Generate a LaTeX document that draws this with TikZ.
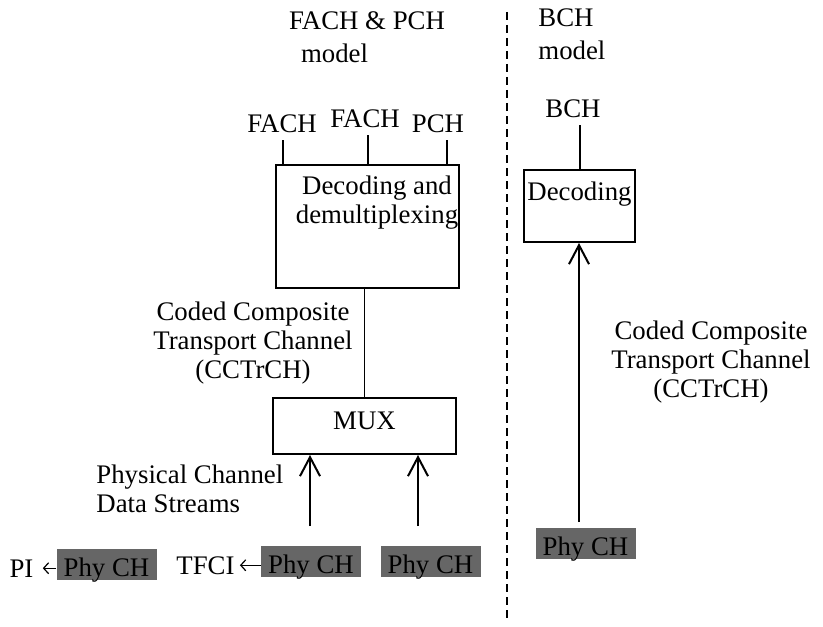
\documentclass[tikz,border=0pt]{standalone}
\usepackage{fontspec}
\setmainfont{Liberation Serif}
\usetikzlibrary{arrows.meta}

\begin{document}
\begin{tikzpicture}[x=0.5pt,y=-0.5pt,
  every node/.style={font=\fontsize{13.4}{14.5}\selectfont,inner sep=0pt},
  txt/.style={anchor=base},
  blockbox/.style={draw,line width=1pt,anchor=base},
  phybox/.style={fill=black!60,minimum width=50pt,text height=13.5pt,text depth=2pt,anchor=base},
  chlabel/.style={anchor=south,inner ysep=3.5pt},
  tick/.style={line width=0.8pt},
  uparrow/.style={line width=1pt,-{Straight Barb[length=9.5pt,width=10pt,line width=1pt]}},
  sidearrow/.style={line width=0.6pt,-{Straight Barb[length=2.5pt,width=5.5pt]}}]

\useasboundingbox (0,0) rectangle (823,626);

\node[txt] (fpmodel) at (367,30) {FACH \& PCH};
\node[txt] (fpmodelb) at (334.5,62) {model};
\node[txt,anchor=base west] (bmodel) at (538,27) {BCH};
\node[txt,anchor=base west] (bmodelb) at (538,60) {model};

\node[chlabel] (fach1) at (282,140) {FACH};
\node[chlabel] (fach2) at (365,135) {FACH};
\node[chlabel] (pch) at (438,140) {PCH};
\node[chlabel] (bch) at (573,125) {BCH};

\node[draw,line width=1pt,minimum width=91.5pt,minimum height=61.5pt] (demux) at (367.5,226.5) {};
\node[txt,align=center] (demuxtext) at (377,223) {Decoding and\\demultiplexing};
\node[blockbox,minimum width=91.5pt,text height=15.5pt,text depth=12.5pt] (mux) at (364.5,429) {MUX};
\node[blockbox,minimum width=55.5pt,text height=15pt,text depth=21pt] (bdec) at (579.5,200) {Decoding};

\node[txt,align=center] (cctrch) at (253,378) {Coded Composite\\Transport Channel\\(CCTrCH)};
\node[txt,align=center] (bcctrch) at (711,397) {Coded Composite\\Transport Channel\\(CCTrCH)};
\node[txt,anchor=base west,align=left] (pcds) at (96,512) {Physical Channel\\Data Streams};

\node[phybox] (phy1) at (106.5,576) {Phy CH};
\node[phybox] (phy2) at (311,573) {Phy CH};
\node[phybox] (phy3) at (430.5,573) {Phy CH};
\node[phybox] (phy4) at (585.5,555) {Phy CH};
\node[txt,inner xsep=4.5pt] (pi) at (21.5,577) {PI};
\node[txt,inner xsep=2.5pt] (tfci) at (205.5,574) {TFCI};

\coordinate (in1) at (310,526);
\coordinate (in2) at (418,526);
\coordinate (in3) at (579,522);
\coordinate (divtop) at (507,12);
\coordinate (divbot) at (507,622);

\draw[line width=1pt,dash pattern=on 4pt off 2.5pt] (divtop) -- (divbot);
\draw[tick] ([xshift=0.5pt]fach1.south) -- ([xshift=0.5pt]fach1.south |- demux.north);
\draw[tick] ([xshift=1.5pt]fach2.south) -- ([xshift=1.5pt]fach2.south |- demux.north);
\draw[tick] ([xshift=4.5pt]pch.south) -- ([xshift=4.5pt]pch.south |- demux.north);
\draw[tick] ([xshift=3.5pt]bch.south) -- ([xshift=3.5pt]bch.south |- bdec.north);
\draw[tick] (mux.north) -- (mux.north |- demux.south);
\draw[uparrow] (in1) -- (in1 |- mux.south);
\draw[uparrow] (in2) -- (in2 |- mux.south);
\draw[uparrow] (in3) -- (in3 |- bdec.south);
\draw[sidearrow] (phy1.west |- pi.east) -- (pi.east);
\draw[sidearrow] (phy2.west |- tfci.east) -- (tfci.east);

\end{tikzpicture}
\end{document}
